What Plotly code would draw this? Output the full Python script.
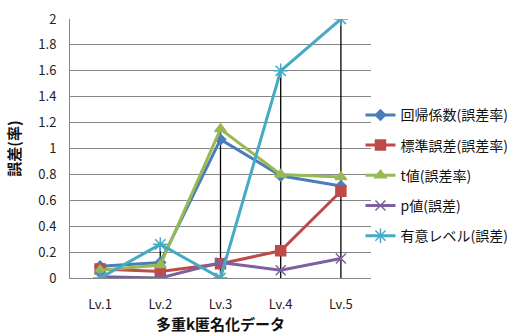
import plotly.graph_objects as go

categories = ["Lv.1", "Lv.2", "Lv.3", "Lv.4", "Lv.5"]
coef_err = [0.09, 0.12, 1.07, 0.79, 0.71]
stderr_err = [0.07, 0.05, 0.11, 0.21, 0.67]
t_err = [0.06, 0.10, 1.15, 0.80, 0.78]
p_err = [0.01, 0.00, 0.12, 0.06, 0.15]
sig_err = [0.00, 0.26, 0.00, 1.60, 2.00]
y_ticks = [0, 0.2, 0.4, 0.6, 0.8, 1, 1.2, 1.4, 1.6, 1.8, 2]

series = [
    ("回帰係数(誤差率)", coef_err, "#4a7ebb", "diamond", 8),
    ("標準誤差(誤差率)", stderr_err, "#be4b48", "square", 10),
    ("t値(誤差率)", t_err, "#98b954", "triangle-up", 10),
    ("p値(誤差)", p_err, "#7d60a0", "x-thin-open", 10),
    ("有意レベル(誤差)", sig_err, "#46aac5", "asterisk-open", 12),
]

fig = go.Figure()

# drop lines (max value to axis at each category)
all_vals = [s[1] for s in series]
dx, dy = [], []
for i, c in enumerate(categories):
    top = max(v[i] for v in all_vals)
    dx += [c, c, None]
    dy += [0, top, None]
fig.add_trace(go.Scatter(x=dx, y=dy, mode="lines", line=dict(color="black", width=1.3),
                         showlegend=False, hoverinfo="skip"))

for i, (name, vals, color, sym, size) in enumerate(series):
    fig.add_trace(go.Scatter(
        x=categories, y=vals, name=name, mode="lines+markers",
        line=dict(color=color, width=3),
        marker=dict(symbol=sym, size=size, color=color, line=dict(color=color, width=1.5)),
        legendgroup=f"g{i}",
    ))

fig.update_layout(
    width=525, height=334,
    margin=dict(l=70, r=150, t=19, b=56),
    paper_bgcolor="white", plot_bgcolor="white",
    font=dict(family="Noto Sans CJK JP, sans-serif", size=13, color="#222"),
    xaxis=dict(type="category", showgrid=False, showline=True, linecolor="#868686",
               linewidth=1, ticks="", tickfont=dict(size=13), ticklabelstandoff=14,
               automargin=False,
               title=dict(text="<b>多重k匿名化データ</b>", font=dict(size=15, color="#111"), standoff=2),
               range=[-0.5, 4.5]),
    yaxis=dict(range=[0, 2], tickvals=y_ticks, ticktext=[f"{v:g}" for v in y_ticks],
               showgrid=True, gridcolor="#868686", gridwidth=1, showline=True,
               linecolor="#868686", zeroline=False, ticks="", tickfont=dict(size=13),
               ticklabelstandoff=10, automargin=False,
               title=dict(text="<b>誤差(率)</b>", font=dict(size=15, color="#111"), standoff=14)),
    legend=dict(x=0.965, y=0.69, xanchor="left", yanchor="top", tracegroupgap=9,
                font=dict(size=14, color="#111"), bgcolor="rgba(0,0,0,0)"),
)

fig.write_html("out.html")
